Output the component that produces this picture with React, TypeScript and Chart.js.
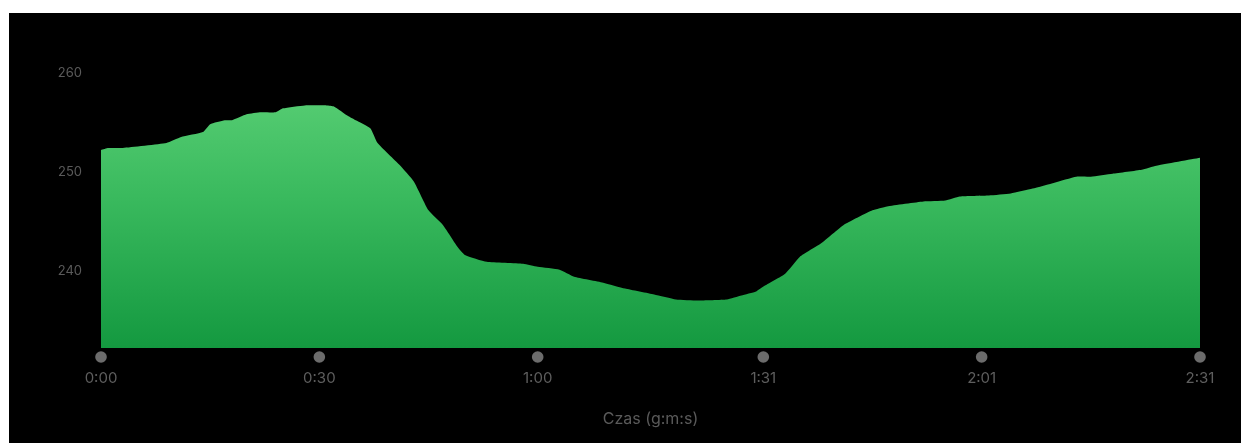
import React, { useEffect, useRef } from "react";
import { Chart, registerables } from "chart.js";

Chart.register(...registerables);

// time in seconds
const seconds = [
  0, 1, 3, 9, 11, 14, 15, 17, 18, 20, 22, 24, 25, 28, 31, 32, 34, 35, 37, 38,
  41, 43, 45, 47, 49, 50, 53, 58, 60, 63, 65, 69, 72, 76, 79, 82, 86, 88, 90,
  91, 94, 96, 99, 102, 106, 108, 113, 116, 118, 122, 125, 128, 131, 134, 136,
  139, 143, 145, 151,
];
const values = [
  252.2, 252.4, 252.4, 252.9, 253.5, 254.0, 254.8, 255.2, 255.2, 255.8, 256.0,
  256.0, 256.4, 256.7, 256.7, 256.6, 255.6, 255.2, 254.4, 252.9, 250.7, 249.0,
  246.1, 244.6, 242.4, 241.6, 240.9, 240.7, 240.4, 240.1, 239.4, 238.8, 238.2,
  237.6, 237.1, 237.0, 237.1, 237.5, 237.9, 238.4, 239.7, 241.4, 242.8, 244.6,
  246.1, 246.5, 247.0, 247.1, 247.5, 247.6, 247.8, 248.3, 248.9, 249.5, 249.5,
  249.8, 250.2, 250.6, 251.4,
];
const xTicks = [0, 30, 60, 91, 121, 151];
const yTicks = [240, 250, 260];
const yMin = 232.2;
const yMax = 263;
const xTitle = "Czas (g:m:s)";

function fmtTime(s: number): string {
  const m = Math.floor(s / 60);
  const ss = Math.round(s % 60);
  return `${m}:${String(ss).padStart(2, "0")}`;
}

const tickDots = {
  id: "tickDots",
  afterDraw(chart: any) {
    const xs = chart.scales.x;
    const { ctx, chartArea } = chart;
    ctx.save();
    ctx.fillStyle = "#6c6c6c";
    xs.ticks.forEach((t: any) => {
      const px = xs.getPixelForValue(t.value);
      ctx.beginPath();
      ctx.arc(px, chartArea.bottom + 9, 5.8, 0, Math.PI * 2);
      ctx.fill();
    });
    ctx.restore();
  },
};

export default function App() {
  const ref = useRef<HTMLCanvasElement | null>(null);

  useEffect(() => {
    document.body.style.margin = "0";
    document.body.style.overflow = "hidden";
    const canvas = ref.current;
    if (!canvas) return;
    const chart = new Chart(canvas, {
      type: "line",
      data: {
        datasets: [
          {
            data: seconds.map((s, i) => ({ x: s, y: values[i] })),
            fill: "start",
            borderWidth: 0,
            borderColor: "rgba(0,0,0,0)",
            pointRadius: 0,
            tension: 0.15,
            backgroundColor: (c: any) => {
              const area = c.chart.chartArea;
              if (!area) return "rgb(60,180,90)";
              const g = c.chart.ctx.createLinearGradient(0, area.top, 0, area.bottom);
              g.addColorStop(0, "rgb(100,214,125)");
              g.addColorStop(0.5, "rgb(58,186,94)");
              g.addColorStop(1, "rgb(20,153,64)");
              return g;
            },
          },
        ],
      },
      options: {
        animation: false,
        responsive: false,
        layout: { padding: { top: 30, right: 41, left: 0, bottom: 0 } },
        plugins: {
          legend: { display: false },
          tooltip: { enabled: false },
        },
        scales: {
          x: {
            type: "linear",
            min: 0,
            max: 151,
            grid: { display: false },
            border: { display: false },
            afterBuildTicks: (s: any) => {
              s.ticks = xTicks.map((v) => ({ value: v }));
            },
            afterFit: (s: any) => {
              s.height = 95;
            },
            ticks: {
              autoSkip: false,
              maxRotation: 0,
              padding: 13,
              color: "#5e5e5e",
              font: { family: "Inter", size: 15 },
              callback: (v: any) => fmtTime(Number(v)),
            },
            title: {
              display: true,
              text: xTitle,
              color: "#5a5a5a",
              font: { family: "Inter", size: 16 },
              padding: { top: 0, bottom: 14 },
            },
          },
          y: {
            min: yMin,
            max: yMax,
            grid: { display: false },
            border: { display: false },
            afterBuildTicks: (s: any) => {
              s.ticks = yTicks.map((v) => ({ value: v }));
            },
            afterFit: (s: any) => {
              s.width = 92;
            },
            ticks: {
              padding: 11,
              color: "#5a5a5a",
              font: { family: "Inter", size: 13 },
            },
          },
        },
      },
      plugins: [tickDots],
    });
    return () => chart.destroy();
  }, []);

  return (
    <div
      style={{
        position: "absolute",
        left: 9,
        top: 13,
        width: 1232,
        height: 430,
        background: "#000",
      }}
    >
      <canvas ref={ref} width={1232} height={430} style={{ display: "block" }} />
    </div>
  );
}
